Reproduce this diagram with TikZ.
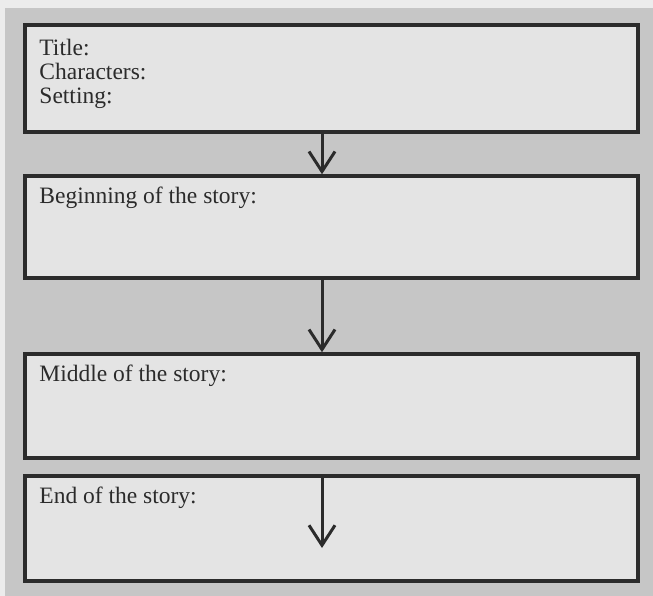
\documentclass[tikz,border=0pt]{standalone}
\usepackage{fontspec}
\setmainfont{Liberation Serif}
\usetikzlibrary{arrows.meta,positioning}
\definecolor{paper}{HTML}{ECECEC}
\definecolor{pagegray}{HTML}{C6C6C6}
\definecolor{boxfill}{HTML}{E4E4E4}
\definecolor{ink}{HTML}{2B2B2B}
\tikzset{
  storybox/.style={draw=ink, fill=boxfill, line width=3.5bp, minimum width=613bp, inner sep=0pt},
  boxlabel/.style={text=ink, inner sep=0pt, anchor=base west, align=left, font=\fontsize{23.5bp}{24bp}\selectfont},
  flow/.style={draw=ink, line width=3bp, -{Straight Barb[length=20bp,width=26bp]}}
}

\begin{document}
\begin{tikzpicture}[x=1bp,y=-1bp]
    % Page and grey panel
    \useasboundingbox (0,0) rectangle (653,596);
    \fill[paper] (0,0) rectangle (653,596);
    \fill[pagegray] (5,8) rectangle (653,596);
    % The four boxes
    \node[storybox, minimum height=107bp] (title) at (331.5,78.5) {};
    \node[storybox, minimum height=102bp] (begin) at (331.5,227) {};
    \node[storybox, minimum height=104bp] (middle) at (331.5,406) {};
    \node[storybox, minimum height=105bp] (end) at (331.5,528.5) {};
    % Labels in the boxes (base of the first one is its last line)
    \node[boxlabel] (titletext) at ([xshift=16bp,yshift=-80bp]title.north west) {Title:\\Characters:\\Setting:};
    \node[boxlabel] (begintext) at ([xshift=16bp,yshift=-29bp]begin.north west) {Beginning of the story:};
    \node[boxlabel] (middletext) at ([xshift=16bp,yshift=-29bp]middle.north west) {Middle of the story:};
    \node[boxlabel] (endtext) at ([xshift=16bp,yshift=-29bp]end.north west) {End of the story:};
    % Arrows
    \coordinate (ax) at (322,0);
    \coordinate (endtip) at (322,548);
    \draw[flow] (title.south -| ax) -- (begin.north -| ax);
    \draw[flow] (begin.south -| ax) -- (middle.north -| ax);
    \draw[flow] (end.north -| ax) -- (endtip);
\end{tikzpicture}
\end{document}
